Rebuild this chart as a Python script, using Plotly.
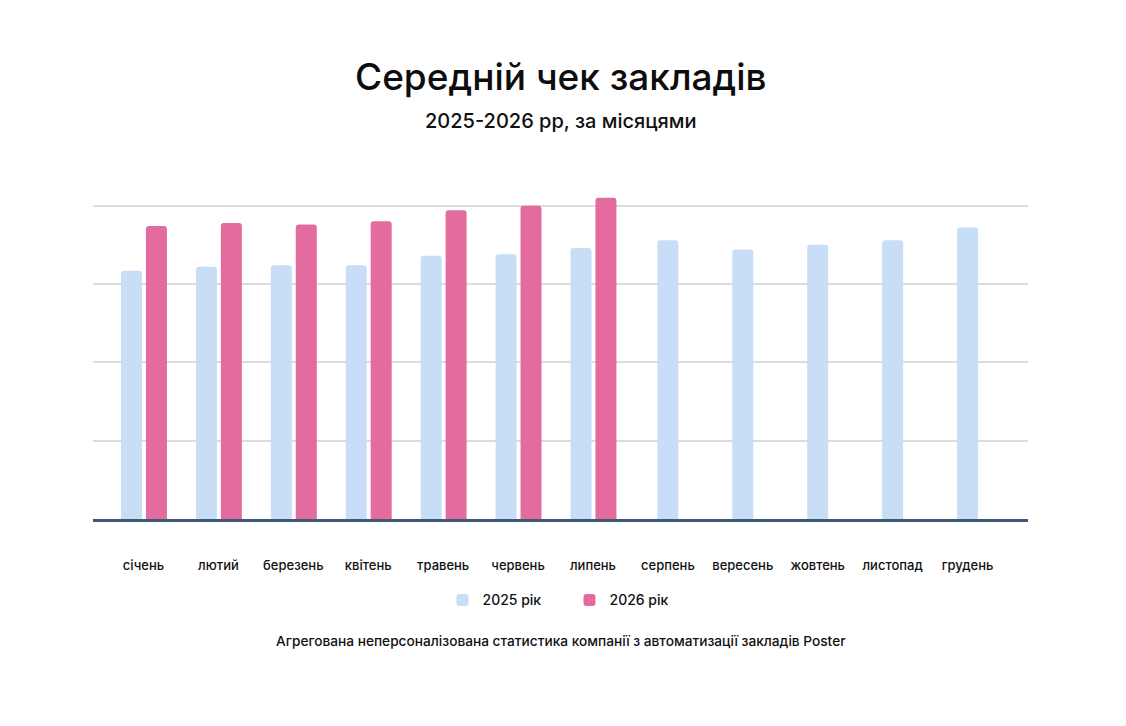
import plotly.graph_objects as go

months = ["січень", "лютий", "березень", "квітень", "травень", "червень", "липень",
          "серпень", "вересень", "жовтень", "листопад", "грудень"]
avg_2025 = [317, 322, 324, 324, 336, 338, 346, 356, 344, 350, 356, 372]
avg_2026 = [374, 378, 376, 380, 394, 400, 410, None, None, None, None, None]
series_names = ["2025 рік", "2026 рік"]

TITLE = "Середній чек закладів"
SUBTITLE = "2025-2026 рр, за місяцями"
FOOTER = "Агрегована неперсоналізована статистика компанії з автоматизації закладів Poster"

C25 = "#c8ddf6"
C26 = "#e36b9d"
FONT = "Inter"

W = 0.28
has26 = [v is not None for v in avg_2026]
off25 = [-0.30 if h else -W / 2 for h in has26]
off26 = [0.033 for _ in has26]

fig = go.Figure()
fig.add_trace(go.Bar(x=months, y=avg_2025, name=series_names[0], marker_color=C25,
                     marker_cornerradius=3, width=[W] * len(months), offset=off25,
                     marker_line_width=0))
fig.add_trace(go.Bar(x=months, y=avg_2026, name=series_names[1], marker_color=C26,
                     marker_cornerradius=3, width=[W] * len(months), offset=off26,
                     marker_line_width=0))

SHIFT = 8  # page body margin
BASE = 518.7
PT = 190 - SHIFT
PB = 726 - (BASE - SHIFT)
H = 726 - PT - PB
PW = 1126 - (93 - SHIFT) - (98 + SHIFT)


def py(pix):
    return (BASE - pix) / H


fig.update_layout(
    width=1126, height=726,
    margin=dict(l=93 - SHIFT, r=98 + SHIFT, t=PT, b=PB),
    paper_bgcolor="white", plot_bgcolor="white",
    barmode="overlay",
    showlegend=True,
    legend=dict(orientation="h", x=0.5 + 9 / PW, xanchor="center", y=py(600),
                yanchor="middle",
                font=dict(family=FONT, size=14, color="#111", weight=500), itemwidth=30,
                traceorder="normal", entrywidth=82),
    font=dict(family=FONT, color="#111"),
    annotations=[
        dict(text=TITLE, xref="paper", yref="paper", x=0.5, y=py(77), xanchor="center",
             yanchor="middle", showarrow=False,
             font=dict(family=FONT, size=37, color="#0d0d0d", weight=500)),
        dict(text=SUBTITLE, xref="paper", yref="paper", x=0.5, y=py(121), xanchor="center",
             yanchor="middle", showarrow=False,
             font=dict(family=FONT, size=20, color="#111", weight=500)),
        dict(text=FOOTER, xref="paper", yref="paper", x=0.5, y=py(641), xanchor="center",
             yanchor="middle", showarrow=False,
             font=dict(family=FONT, size=13.7, color="#111", weight=500)),
    ],
)
fig.update_xaxes(range=[-0.674, 11.807], showgrid=False, showline=True,
                 linecolor="#3e5878", linewidth=3, ticks="", ticklabelstandoff=32,
                 tickfont=dict(family=FONT, size=13, color="#111", weight=500))
fig.update_yaxes(range=[0, 420], dtick=100, showgrid=True, gridcolor="#dcdcdc",
                 gridwidth=2, showticklabels=False, zeroline=False)

fig.write_html("out.html")
